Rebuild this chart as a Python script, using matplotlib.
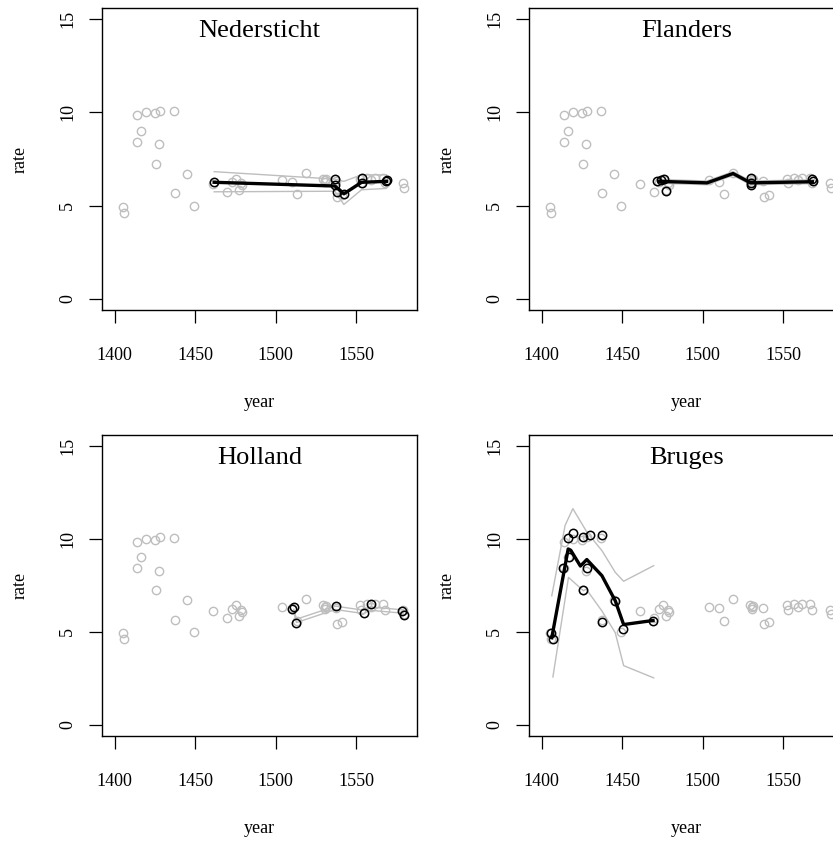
import matplotlib
matplotlib.use('Agg')
import matplotlib.pyplot as plt

plt.rcParams['font.family'] = ['Liberation Serif', 'DejaVu Serif']

# all observations (shown in grey in every panel)
all_years = [1405.2, 1405.8, 1414.1, 1416.2, 1413.5, 1419.5, 1425.5, 1425.0,
             1428.2, 1427.2, 1436.7, 1437.5, 1444.8, 1449.3, 1461.2, 1469.6,
             1473.0, 1475.7, 1477.5, 1478.2, 1479.0, 1503.8, 1510.5, 1513.5,
             1518.8, 1529.6, 1530.5, 1531.0, 1531.5, 1537.5, 1538.2, 1541.5,
             1552.5, 1553.0, 1557.0, 1559.5, 1562.0, 1567.0, 1568.0, 1579.5,
             1580.0]
all_rates = [4.95, 4.62, 9.87, 9.02, 8.43, 10.0, 7.25, 9.96,
             10.1, 8.3, 10.05, 5.65, 6.7, 4.98, 6.15, 5.75,
             6.25, 6.45, 5.85, 6.2, 6.1, 6.35, 6.28, 5.6,
             6.75, 6.45, 6.35, 6.25, 6.4, 6.3, 5.45, 5.55,
             6.45, 6.2, 6.5, 6.35, 6.5, 6.5, 6.2, 6.2,
             5.95]

# Nedersticht
ned_years = [1461.8, 1536.9, 1536.9, 1538.0, 1542.5, 1553.5, 1553.5, 1569.0, 1569.3]
ned_rates = [6.25, 6.45, 6.1, 5.72, 5.63, 6.5, 6.2, 6.3, 6.35]
ned_fit_years = [1461.8, 1536.9, 1542.5, 1553.5, 1569.0]
ned_fit = [6.25, 6.05, 5.63, 6.25, 6.3]
ned_hi = [6.82, 6.42, 6.3, 6.65, 6.65]
ned_lo = [5.74, 5.77, 5.06, 5.85, 5.92]

# Flanders
fla_years = [1471.7, 1474.0, 1475.8, 1477.5, 1529.9, 1529.9, 1530.3, 1568.3, 1568.6]
fla_rates = [6.3, 6.35, 6.43, 5.8, 6.5, 6.2, 6.1, 6.4, 6.3]
fla_fit_years = [1473.0, 1502.8, 1519.0, 1529.9, 1568.3]
fla_fit = [6.3, 6.22, 6.72, 6.22, 6.28]
fla_hi = [6.4, 6.32, 6.82, 6.32, 6.38]
fla_lo = [6.2, 6.12, 6.62, 6.12, 6.18]

# Holland
hol_years = [1510.3, 1511.5, 1512.6, 1537.3, 1554.9, 1559.3, 1578.8, 1579.8]
hol_rates = [6.23, 6.35, 5.47, 6.4, 6.0, 6.5, 6.13, 5.9]
hol_fit_years = [1511.4, 1513.0, 1537.3, 1554.9, 1558.7, 1579.4]
hol_hi = [6.22, 5.69, 6.39, 6.17, 6.35, 6.19]
hol_lo = [6.04, 5.51, 6.21, 5.99, 6.17, 6.01]

# Bruges
bru_years = [1405.6, 1406.9, 1413.1, 1416.2, 1417.2, 1419.7, 1425.9, 1429.7,
             1428.0, 1425.9, 1437.4, 1437.4, 1445.7, 1450.3, 1469.2]
bru_rates = [4.96, 4.6, 8.43, 10.05, 9.02, 10.34, 10.1, 10.23,
             8.43, 7.27, 10.23, 5.54, 6.68, 5.18, 5.59]
bru_fit_years = [1406.2, 1416.4, 1418.0, 1424.0, 1428.0, 1437.4, 1445.7, 1450.9, 1469.2]
bru_fit = [4.69, 9.47, 9.4, 8.55, 8.9, 8.03, 6.68, 5.4, 5.62]
bru_hi_years = [1406.2, 1414.5, 1419.3, 1428.0, 1437.4, 1445.7, 1450.9, 1469.6]
bru_hi = [6.95, 10.74, 11.64, 10.38, 9.38, 8.21, 7.73, 8.57]
bru_lo_years = [1406.9, 1416.6, 1425.9, 1427.6, 1437.4, 1445.7, 1450.9, 1469.6]
bru_lo = [2.58, 7.94, 7.22, 7.31, 6.13, 4.96, 3.19, 2.53]

GREY = '#bebebe'

fig = plt.figure(figsize=(8.33, 8.43), dpi=100)

w, h = 0.3782, 0.3582
positions = [
    [0.1224, 0.6323, w, h],
    [0.635, 0.6323, w, h],
    [0.1224, 0.1269, w, 0.357],
    [0.635, 0.1269, w, 0.357],
]

panels = [
    ('Nedersticht', ned_years, ned_rates, [(ned_fit_years, ned_hi), (ned_fit_years, ned_lo)], (ned_fit_years, ned_fit)),
    ('Flanders', fla_years, fla_rates, [(fla_fit_years, fla_hi), (fla_fit_years, fla_lo)], (fla_fit_years, fla_fit)),
    ('Holland', hol_years, hol_rates, [(hol_fit_years, hol_hi), (hol_fit_years, hol_lo)], None),
    ('Bruges', bru_years, bru_rates, [(bru_hi_years, bru_hi), (bru_lo_years, bru_lo)], (bru_fit_years, bru_fit)),
]

for pos, (name, yrs, rts, bands, fit) in zip(positions, panels):
    ax = fig.add_axes(pos)
    ax.plot(all_years, all_rates, 'o', mfc='none', mec=GREY, ms=6, mew=1.0)
    for bx, by in bands:
        ax.plot(bx, by, color=GREY, lw=1.0)
    if fit is not None:
        ax.plot(fit[0], fit[1], color='black', lw=2.4)
    ax.plot(yrs, rts, 'o', mfc='none', mec='black', ms=6, mew=1.1)

    ax.set_xlim(1392, 1588)
    ax.set_ylim(-0.6, 15.6)
    ax.set_xticks([1400, 1450, 1500, 1550])
    ax.set_yticks([0, 5, 10, 15])
    ax.tick_params(axis='x', length=9.5, width=0.9, pad=17, labelsize=13)
    ax.tick_params(axis='y', length=9.5, width=0.9, pad=9, labelsize=13,
                   labelrotation=90)
    for lab in ax.get_yticklabels():
        lab.set_verticalalignment('center')
    for s in ax.spines.values():
        s.set_linewidth(1.0)
    ax.set_xlabel('year', fontsize=13, labelpad=22)
    ax.set_ylabel('rate', fontsize=13, labelpad=22)
    ax.text(0.5, 0.925, name, transform=ax.transAxes, ha='center', va='center',
            fontsize=19)

fig.savefig('out.png', dpi=100)
